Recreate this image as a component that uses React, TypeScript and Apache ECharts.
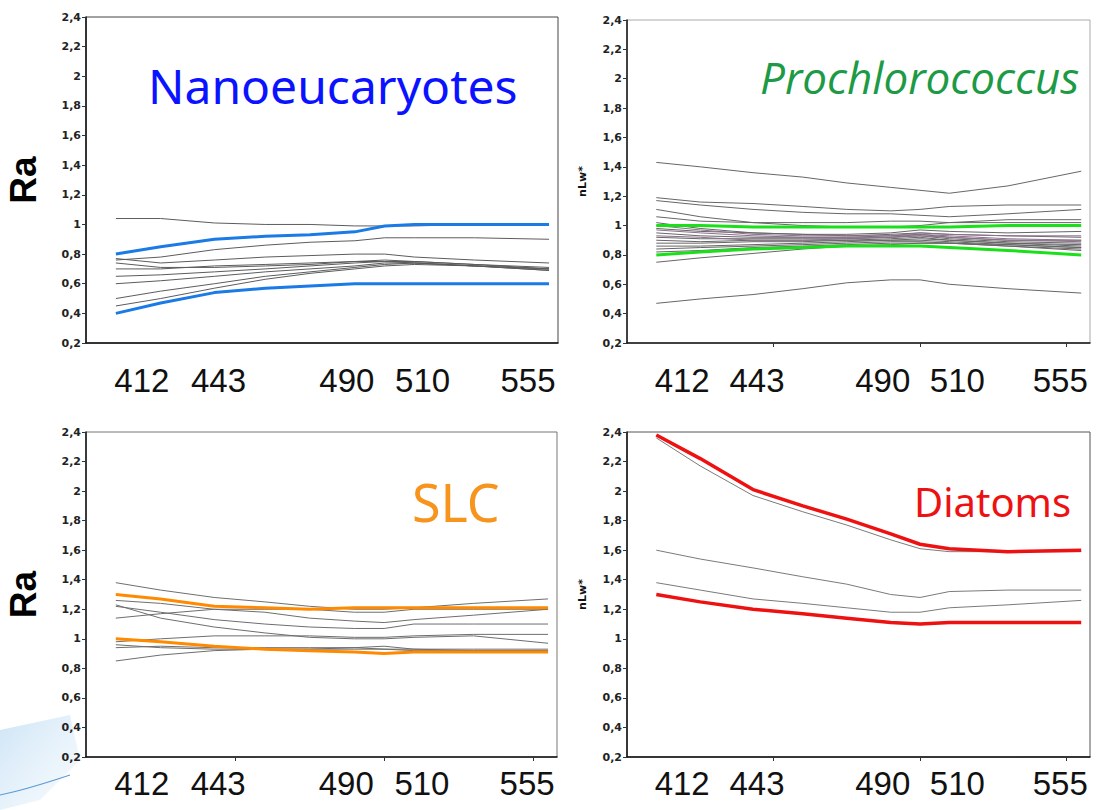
import React, { useEffect, useRef } from 'react';
import * as echarts from 'echarts';

// ---------- data ----------
const WAVELENGTHS = [410, 425, 443, 460, 475, 490, 500, 510, 530, 555];
const X_TICK_LABELS = [412, 443, 490, 510, 555];
const X_MIN = 400;
const X_MAX = 558;
const X_TICKS = [450, 500, 550];
const Y_MIN = 0.2;
const Y_MAX = 2.4;
const Y_STEP = 0.2;

const PANEL_TITLES = ['Nanoeucaryotes', 'Prochlorococcus', 'SLC', 'Diatoms'];
const PANEL_Y_NAMES = ['Ra', 'nLw*', 'Ra', 'nLw*'];

const NANO_GRAY = [
  [1.04, 1.04, 1.01, 1.0, 1.0, 0.99, 0.99, 0.99, 1.0, 1.0],
  [0.76, 0.78, 0.83, 0.86, 0.88, 0.89, 0.91, 0.91, 0.91, 0.9],
  [0.77, 0.74, 0.76, 0.78, 0.79, 0.8, 0.8, 0.78, 0.76, 0.74],
  [0.74, 0.71, 0.71, 0.72, 0.73, 0.75, 0.76, 0.75, 0.73, 0.7],
  [0.7, 0.7, 0.72, 0.73, 0.74, 0.75, 0.75, 0.74, 0.72, 0.69],
  [0.65, 0.66, 0.68, 0.7, 0.72, 0.74, 0.75, 0.75, 0.73, 0.71],
  [0.6, 0.62, 0.65, 0.68, 0.7, 0.72, 0.74, 0.74, 0.72, 0.7],
  [0.5, 0.55, 0.6, 0.65, 0.68, 0.71, 0.73, 0.74, 0.72, 0.69],
  [0.45, 0.5, 0.57, 0.63, 0.67, 0.7, 0.72, 0.73, 0.72, 0.7],
];
const NANO_LIMITS = [
  [0.8, 0.85, 0.9, 0.92, 0.93, 0.95, 0.99, 1.0, 1.0, 1.0],
  [0.4, 0.47, 0.54, 0.57, 0.585, 0.6, 0.6, 0.6, 0.6, 0.6],
];

const PROCHLO_GRAY = [
  [1.43, 1.4, 1.36, 1.33, 1.29, 1.26, 1.24, 1.22, 1.27, 1.37],
  [1.19, 1.16, 1.15, 1.13, 1.11, 1.1, 1.11, 1.13, 1.14, 1.14],
  [1.17, 1.14, 1.11, 1.09, 1.08, 1.08, 1.07, 1.06, 1.08, 1.11],
  [1.11, 1.06, 1.02, 1.0, 0.99, 0.99, 1.0, 1.02, 1.04, 1.04],
  [1.06, 1.03, 1.02, 1.02, 1.02, 1.03, 1.03, 1.02, 1.02, 1.02],
  [1.02, 0.98, 0.95, 0.94, 0.94, 0.95, 0.97, 0.96, 0.95, 0.96],
  [0.98, 0.96, 0.95, 0.94, 0.93, 0.94, 0.95, 0.94, 0.93, 0.92],
  [0.95, 0.93, 0.92, 0.92, 0.92, 0.93, 0.94, 0.92, 0.9, 0.9],
  [0.92, 0.91, 0.91, 0.91, 0.91, 0.92, 0.93, 0.91, 0.89, 0.88],
  [0.9, 0.89, 0.9, 0.9, 0.9, 0.91, 0.92, 0.9, 0.88, 0.87],
  [0.88, 0.88, 0.89, 0.89, 0.9, 0.9, 0.91, 0.9, 0.88, 0.86],
  [0.86, 0.86, 0.87, 0.88, 0.89, 0.9, 0.9, 0.89, 0.87, 0.85],
  [0.84, 0.85, 0.86, 0.87, 0.88, 0.89, 0.89, 0.88, 0.86, 0.84],
  [0.82, 0.83, 0.85, 0.86, 0.87, 0.88, 0.88, 0.88, 0.86, 0.83],
  [0.75, 0.78, 0.81, 0.84, 0.86, 0.87, 0.88, 0.88, 0.87, 0.85],
  [0.47, 0.5, 0.53, 0.57, 0.61, 0.63, 0.63, 0.6, 0.57, 0.54],
];
const PROCHLO_PURPLE = [
  [1.0, 0.97, 0.94, 0.93, 0.93, 0.93, 0.95, 0.94, 0.93, 0.93],
  [0.97, 0.95, 0.93, 0.92, 0.92, 0.92, 0.94, 0.93, 0.91, 0.9],
  [0.93, 0.92, 0.9, 0.9, 0.91, 0.92, 0.93, 0.92, 0.9, 0.89],
];
const PROCHLO_LIMITS = [
  [1.0, 1.0, 0.99, 0.99, 0.99, 0.99, 0.99, 0.99, 1.0, 1.0],
  [0.8, 0.82, 0.84, 0.85, 0.86, 0.86, 0.86, 0.85, 0.83, 0.8],
];

const SLC_GRAY = [
  [1.38, 1.33, 1.28, 1.25, 1.22, 1.2, 1.2, 1.21, 1.24, 1.27],
  [1.26, 1.24, 1.2, 1.18, 1.14, 1.12, 1.11, 1.13, 1.16, 1.2],
  [1.22, 1.18, 1.13, 1.1, 1.08, 1.07, 1.07, 1.1, 1.1, 1.1],
  [1.23, 1.14, 1.08, 1.04, 1.01, 1.0, 1.0, 1.01, 1.02, 0.97],
  [1.14, 1.17, 1.2, 1.2, 1.2, 1.18, 1.18, 1.2, 1.2, 1.2],
  [0.98, 1.0, 1.02, 1.02, 1.02, 1.01, 1.01, 1.02, 1.03, 1.03],
  [0.94, 0.95, 0.94, 0.94, 0.94, 0.94, 0.95, 0.93, 0.93, 0.93],
  [0.96, 0.94, 0.93, 0.93, 0.93, 0.94, 0.93, 0.92, 0.92, 0.92],
  [0.85, 0.89, 0.92, 0.93, 0.93, 0.93, 0.93, 0.93, 0.92, 0.92],
];
const SLC_LIMITS = [
  [1.3, 1.27, 1.22, 1.21, 1.2, 1.21, 1.21, 1.21, 1.21, 1.21],
  [1.0, 0.98, 0.95, 0.93, 0.92, 0.91, 0.9, 0.91, 0.91, 0.91],
];

const DIATOM_GRAY = [
  [2.36, 2.17, 1.97, 1.86, 1.77, 1.67, 1.61, 1.59, 1.59, 1.59],
  [1.6, 1.54, 1.48, 1.42, 1.37, 1.3, 1.28, 1.32, 1.33, 1.33],
  [1.38, 1.33, 1.27, 1.24, 1.21, 1.18, 1.18, 1.21, 1.23, 1.26],
];
const DIATOM_LIMITS = [
  [2.38, 2.22, 2.01, 1.9, 1.81, 1.71, 1.64, 1.61, 1.59, 1.6],
  [1.3, 1.25, 1.2, 1.17, 1.14, 1.11, 1.1, 1.11, 1.11, 1.11],
];

// ---------- layout / style ----------
const GRIDS = [
  { left: 86, top: 17, width: 472, height: 326 },
  { left: 627, top: 20, width: 463, height: 323 },
  { left: 86, top: 432, width: 471, height: 325 },
  { left: 627, top: 432, width: 463, height: 325 },
];
const BORDER_COLORS = ['#444', '#aaa', '#777', '#555'];
const SHOW_X_TICKS = [false, true, true, true];
const X_LABEL_MARGINS = [20, 20, 9, 9];
const Y_NAME_GAPS = [44, 39, 44, 39];
const LABEL_NUDGE: Record<number, number> = { 412: 20, 443: 4, 490: -8, 510: 8, 555: -21 };
const LABEL_KEYS: Record<number, string> = { 412: 'a', 443: 'b', 490: 'c', 510: 'd', 555: 'e' };

const toPairs = (vals: number[]) => WAVELENGTHS.map((w, i) => [w, vals[i]]);

function buildOption() {
  const labelFont = {
    fontSize: 33,
    lineHeight: 34,
    color: '#111',
    fontFamily: '"Liberation Sans", Arial, sans-serif',
  };
  const rich: Record<string, any> = {};
  X_TICK_LABELS.forEach((v) => {
    const d = LABEL_NUDGE[v] || 0;
    rich[LABEL_KEYS[v]] = {
      ...labelFont,
      padding: d >= 0 ? [0, 0, 0, 2 * d] : [0, -2 * d, 0, 0],
    };
  });

  const grid = GRIDS.map((g, i) => ({
    ...g,
    show: true,
    containLabel: false,
    outerBoundsMode: 'none',
    borderColor: BORDER_COLORS[i],
    borderWidth: 1,
    backgroundColor: 'transparent',
  }));

  const xAxis = GRIDS.map((_, i) => ({
    type: 'value',
    gridIndex: i,
    min: X_MIN,
    max: X_MAX,
    axisLine: { show: true, lineStyle: { color: '#111', width: 1.5 } },
    axisTick: {
      show: SHOW_X_TICKS[i],
      customValues: X_TICKS,
      length: 4,
      inside: false,
      lineStyle: { color: '#333' },
    },
    splitLine: { show: false },
    axisLabel: {
      customValues: X_TICK_LABELS,
      margin: X_LABEL_MARGINS[i],
      ...labelFont,
      formatter: (v: number) => `{${LABEL_KEYS[v] || 'a'}|${v}}`,
      rich,
    },
  }));

  const yAxis = GRIDS.map((_, i) => ({
    type: 'value',
    gridIndex: i,
    min: Y_MIN,
    max: Y_MAX,
    interval: Y_STEP,
    name: PANEL_Y_NAMES[i],
    nameLocation: 'middle',
    nameRotate: 90,
    nameGap: Y_NAME_GAPS[i],
    nameTextStyle:
      PANEL_Y_NAMES[i] === 'Ra'
        ? { fontSize: 37, fontWeight: 'bold', color: '#000', fontFamily: '"Liberation Sans", Arial, sans-serif' }
        : { fontSize: 11, fontWeight: 'bold', color: '#111', fontFamily: '"DejaVu Sans", Verdana, sans-serif' },
    axisLine: { show: true, lineStyle: { color: '#111', width: 1.5 } },
    axisTick: { show: true, length: 4, lineStyle: { color: '#333' } },
    splitLine: { show: false },
    axisLabel: {
      margin: 5,
      fontSize: 11,
      fontWeight: 'bold',
      color: '#222',
      fontFamily: '"DejaVu Sans", Verdana, sans-serif',
      formatter: (v: number) => String(+v.toFixed(1)).replace('.', ','),
    },
  }));

  const series: any[] = [];
  const addLines = (idx: number, rows: number[][], color: string, width: number) => {
    rows.forEach((row) => {
      series.push({
        type: 'line',
        xAxisIndex: idx,
        yAxisIndex: idx,
        data: toPairs(row),
        symbol: 'none',
        silent: true,
        lineStyle: { color, width },
      });
    });
  };

  addLines(0, NANO_GRAY, '#5c5c5c', 1);
  addLines(0, NANO_LIMITS, '#1a7ae6', 3);
  addLines(1, PROCHLO_GRAY, '#666666', 1);
  addLines(1, PROCHLO_PURPLE, '#8c6f8c', 1);
  addLines(1, PROCHLO_LIMITS, '#19e019', 3);
  addLines(2, SLC_GRAY, '#6e6e6e', 1);
  addLines(2, SLC_LIMITS, '#ff8a00', 3);
  addLines(3, DIATOM_GRAY, '#7a7a7a', 1);
  addLines(3, DIATOM_LIMITS, '#ee1111', 3.5);

  const title = [
    {
      text: PANEL_TITLES[0],
      left: 143,
      top: 56,
      textStyle: { color: '#0a12ff', fontSize: 48, fontWeight: 'normal', fontFamily: '"Noto Sans", "Open Sans", sans-serif' },
    },
    {
      text: PANEL_TITLES[1],
      left: 755,
      top: 50,
      textStyle: { color: '#1c9a46', fontSize: 44, fontStyle: 'italic', fontWeight: 'normal', fontFamily: '"Open Sans", "Noto Sans", sans-serif' },
    },
    {
      text: PANEL_TITLES[2],
      left: 407,
      top: 470,
      textStyle: { color: '#f7941d', fontSize: 52, fontWeight: 'normal', fontFamily: '"Noto Sans", sans-serif' },
    },
    {
      text: PANEL_TITLES[3],
      left: 909,
      top: 476,
      textStyle: { color: '#ee1111', fontSize: 40, fontWeight: 'normal', fontFamily: '"Noto Sans", sans-serif' },
    },
  ];

  const graphic = [
    {
      type: 'polygon',
      z: -10,
      silent: true,
      shape: { points: [[0, 730], [70, 715], [80, 760], [40, 800], [0, 810]] },
      style: {
        fill: new echarts.graphic.LinearGradient(0, 0, 1, 1, [
          { offset: 0, color: 'rgba(200,225,245,0.9)' },
          { offset: 1, color: 'rgba(235,245,252,0.4)' },
        ]),
      },
    },
    {
      type: 'bezierCurve',
      z: -9,
      silent: true,
      shape: { x1: 0, y1: 795, x2: 70, y2: 775, cpx1: 25, cpy1: 790 },
      style: { stroke: '#5b9bd5', lineWidth: 1.2, fill: 'none' },
    },
  ];

  return {
    animation: false,
    backgroundColor: '#ffffff',
    grid,
    xAxis,
    yAxis,
    series,
    title,
    graphic,
  };
}

export default function App() {
  const ref = useRef<HTMLDivElement>(null);
  useEffect(() => {
    if (!ref.current) return;
    const chart = echarts.init(ref.current, undefined, { renderer: 'svg' });
    chart.setOption(buildOption() as any);
    return () => chart.dispose();
  }, []);
  return (
    <div
      ref={ref}
      style={{ position: 'fixed', left: 0, top: 0, width: 1103, height: 810, background: '#fff' }}
    />
  );
}
